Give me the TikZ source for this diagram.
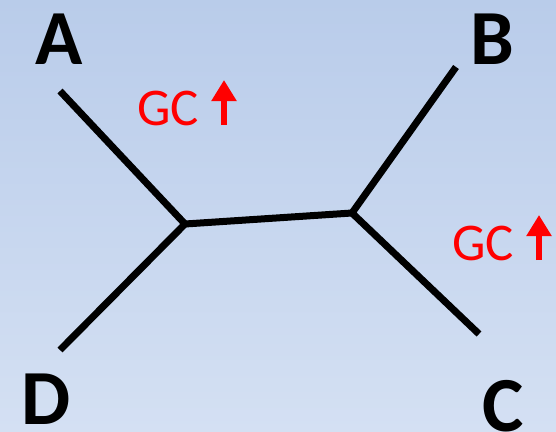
\documentclass[tikz,border=0pt]{standalone}
\usepackage{fontspec}
\setmainfont{Carlito}
\usetikzlibrary{arrows.meta}
\definecolor{BgTop}{RGB}{185,204,234}
\definecolor{BgBottom}{RGB}{212,224,243}
\definecolor{GCRed}{RGB}{255,0,0}
\tikzset{
	branch/.style={line width=7pt,line cap=butt,line join=miter},
	taxon/.style={inner sep=0pt,anchor=base,font=\bfseries\fontsize{78}{78}\selectfont},
	gclabel/.style={inner sep=0pt,anchor=base west,text=GCRed,font=\fontsize{53}{53}\selectfont},
	gcup/.style={GCRed,line width=5.5pt,-{Triangle[width=24pt,length=21pt]}}
}
\begin{document}
\begin{tikzpicture}[x=1pt,y=-1pt]
		% background
		\useasboundingbox (0,0) rectangle (556,431);
		\fill[top color=BgTop,bottom color=BgBottom] (0,0) rectangle (556,431);

		% inner nodes and tips
		\coordinate (jl) at (185,224);
		\coordinate (jr) at (352,213);
		\coordinate (tipA) at (60,91);
		\coordinate (tipB) at (456,67);
		\coordinate (tipC) at (479,334);
		\coordinate (tipD) at (60,350);

		% branches
		\draw[branch] (tipA) -- (jl) -- (tipD);
		\draw[branch] (jl) -- (jr);
		\draw[branch] (tipB) -- (jr) -- (tipC);

		% taxa
		\node[taxon] (A) at (59,64) {A};
		\node[taxon] (B) at (492.5,64) {B};
		\node[taxon] (C) at (503.5,431) {C};
		\node[taxon] (D) at (46.5,424) {D};

		% GC labels with arrows
		\node[gclabel] (gc1) at (137,125) {GC};
		\coordinate (up1) at (224,125);
		\draw[gcup] (up1) -- ++(0,-45);

		\node[gclabel] (gc2) at (452,260) {GC};
		\coordinate (up2) at (539,260);
		\draw[gcup] (up2) -- ++(0,-45);

	\end{tikzpicture}
\end{document}
